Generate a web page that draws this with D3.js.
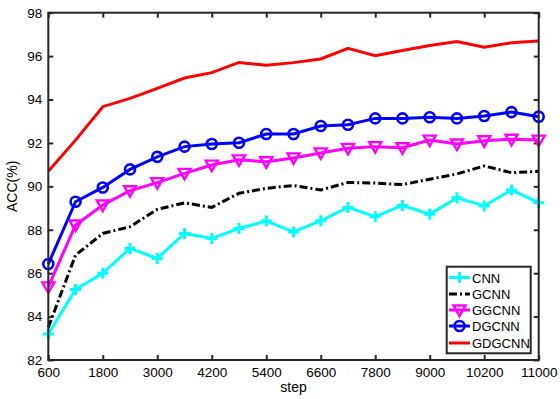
<!DOCTYPE html>
<html>
<head>
<meta charset="utf-8">
<script src="https://cdn.jsdelivr.net/npm/d3@7"></script>
<style>
  body { margin: 0; background: #fff; }
  text { font-family: "Liberation Sans", Arial, sans-serif; }
</style>
</head>
<body>
<div id="chart-area"></div>
<script>
let width = 560,
    height = 399;

// data
let steps = [600, 1200, 1800, 2400, 3000, 3600, 4200, 4800, 5400, 6000,
             6600, 7200, 7800, 8400, 9000, 9600, 10200, 10800, 11400];
let tickSteps = [600, 1800, 3000, 4200, 5400, 6600, 7800, 9000, 10200, 11400];
let tickLabels = ["600", "1800", "3000", "4200", "5400", "6600", "7800", "9000", "10200", "11000"];
let yTicks = [82, 84, 86, 88, 90, 92, 94, 96, 98];

let cnn    = [83.2, 85.25, 86.0, 87.14, 86.68, 87.83, 87.6, 88.06, 88.4, 87.9,
              88.41, 89.03, 88.6, 89.12, 88.72, 89.47, 89.1, 89.83, 89.25];
let gcnn   = [83.5, 86.83, 87.83, 88.14, 88.94, 89.24, 89.03, 89.68, 89.91, 90.04,
              89.83, 90.18, 90.15, 90.08, 90.33, 90.57, 90.94, 90.63, 90.69];
let ggcnn  = [85.37, 88.22, 89.14, 89.8, 90.17, 90.6, 90.98, 91.22, 91.13, 91.31,
              91.54, 91.75, 91.83, 91.78, 92.13, 91.95, 92.1, 92.17, 92.13];
let dgcnn  = [86.42, 89.29, 89.95, 90.78, 91.36, 91.83, 91.95, 92.01, 92.41, 92.41,
              92.78, 92.84, 93.13, 93.13, 93.18, 93.13, 93.24, 93.42, 93.21];
let gdgcnn = [90.7, 92.13, 93.67, 94.05, 94.51, 94.99, 95.24, 95.71, 95.58, 95.7,
              95.87, 96.36, 96.02, 96.26, 96.49, 96.67, 96.41, 96.62, 96.7];

let seriesNames = ["CNN", "GCNN", "GGCNN", "DGCNN", "GDGCNN"];
let seriesValues = [cnn, gcnn, ggcnn, dgcnn, gdgcnn];
let seriesColors = ["#00ffff", "#000000", "#ff00ff", "#0000ff", "#ff0000"];
let seriesMarkers = ["plus", "none", "triangle", "circle", "none"];
let seriesDash = [null, "8,3,2,3", null, null, null];

let mLeft = 48.3, mRight = 538.7, mTop = 12.7, mBottom = 360;

let svg = d3.select("#chart-area").append("svg")
  .attr("width", width)
  .attr("height", height);

svg.append("rect").attr("width", width).attr("height", height).attr("fill", "white");

let x = d3.scaleLinear().domain([600, 11400]).range([mLeft, mRight]);
let y = d3.scaleLinear().domain([82, 98]).range([mBottom, mTop]);

// axes, MATLAB style ticks pointing inwards
svg.append("g")
  .attr("transform", "translate(0," + mBottom + ")")
  .call(d3.axisBottom(x).tickValues(tickSteps)
    .tickFormat((d, i) => tickLabels[i])
    .tickSizeInner(-5).tickSizeOuter(0).tickPadding(7));

svg.append("g")
  .attr("transform", "translate(0," + mTop + ")")
  .call(d3.axisTop(x).tickValues(tickSteps).tickFormat("")
    .tickSizeInner(-5).tickSizeOuter(0));

svg.append("g")
  .attr("transform", "translate(" + mLeft + ",0)")
  .call(d3.axisLeft(y).tickValues(yTicks)
    .tickSizeInner(-5).tickSizeOuter(0).tickPadding(6));

svg.append("g")
  .attr("transform", "translate(" + mRight + ",0)")
  .call(d3.axisRight(y).tickValues(yTicks).tickFormat("")
    .tickSizeInner(-5).tickSizeOuter(0));

svg.selectAll(".domain").remove();
svg.selectAll(".tick line").attr("stroke", "#262626").attr("stroke-width", 2);
svg.selectAll(".tick text")
  .attr("fill", "#000")
  .style("font-size", "13.5px")
  .style("font-family", "'Liberation Sans', Arial, sans-serif");

// lines
let line = d3.line()
  .x((d, i) => x(steps[i]))
  .y(d => y(d));

function drawMarker(g, type, color, cx, cy) {
  if (type == "plus") {
    g.append("path")
      .attr("d", "M" + (cx - 5.5) + "," + cy + "H" + (cx + 5.5) + "M" + cx + "," + (cy - 5.5) + "V" + (cy + 5.5))
      .attr("stroke", color).attr("stroke-width", 3).attr("fill", "none");
  } else if (type == "circle") {
    g.append("circle")
      .attr("cx", cx).attr("cy", cy).attr("r", 5)
      .attr("stroke", color).attr("stroke-width", 2.6).attr("fill", "none");
  } else if (type == "triangle") {
    g.append("path")
      .attr("d", "M" + (cx - 6) + "," + (cy - 4.5) + "L" + (cx + 6) + "," + (cy - 4.5) + "L" + cx + "," + (cy + 6) + "Z")
      .attr("stroke", color).attr("stroke-width", 2.4).attr("fill", "none")
      .attr("stroke-linejoin", "miter");
  }
}

seriesValues.forEach((vals, k) => {
  let g = svg.append("g");
  g.append("path")
    .datum(vals)
    .attr("d", line)
    .attr("fill", "none")
    .attr("stroke", seriesColors[k])
    .attr("stroke-width", 3)
    .attr("stroke-dasharray", seriesDash[k]);
  if (seriesMarkers[k] != "none") {
    vals.forEach((v, i) => drawMarker(g, seriesMarkers[k], seriesColors[k], x(steps[i]), y(v)));
  }
});

// box
svg.append("rect")
  .attr("x", mLeft).attr("y", mTop)
  .attr("width", mRight - mLeft).attr("height", mBottom - mTop)
  .attr("fill", "none").attr("stroke", "#262626").attr("stroke-width", 2);

// labels
svg.append("text")
  .attr("x", (mLeft + mRight) / 2).attr("y", 392)
  .attr("text-anchor", "middle")
  .style("font-size", "14px")
  .text("step");

svg.append("text")
  .attr("transform", "translate(17," + ((mTop + mBottom) / 2) + ") rotate(-90)")
  .attr("text-anchor", "middle")
  .style("font-size", "14px")
  .text("ACC(%)");

// legend
let legend = svg.append("g");
legend.append("rect")
  .attr("x", 446.7).attr("y", 266.7)
  .attr("width", 84).attr("height", 86.6)
  .attr("fill", "white").attr("stroke", "#262626").attr("stroke-width", 2);

let legendY = [277.5, 294, 310, 326, 343];
seriesNames.forEach((name, k) => {
  let ly = legendY[k];
  legend.append("line")
    .attr("x1", 449).attr("x2", 470).attr("y1", ly).attr("y2", ly)
    .attr("stroke", seriesColors[k]).attr("stroke-width", 3)
    .attr("stroke-dasharray", seriesDash[k]);
  drawMarker(legend, seriesMarkers[k], seriesColors[k], 459.5, ly);
  legend.append("text")
    .attr("x", 472).attr("y", ly + 5)
    .style("font-size", "13px")
    .text(name);
});
</script>
</body>
</html>
